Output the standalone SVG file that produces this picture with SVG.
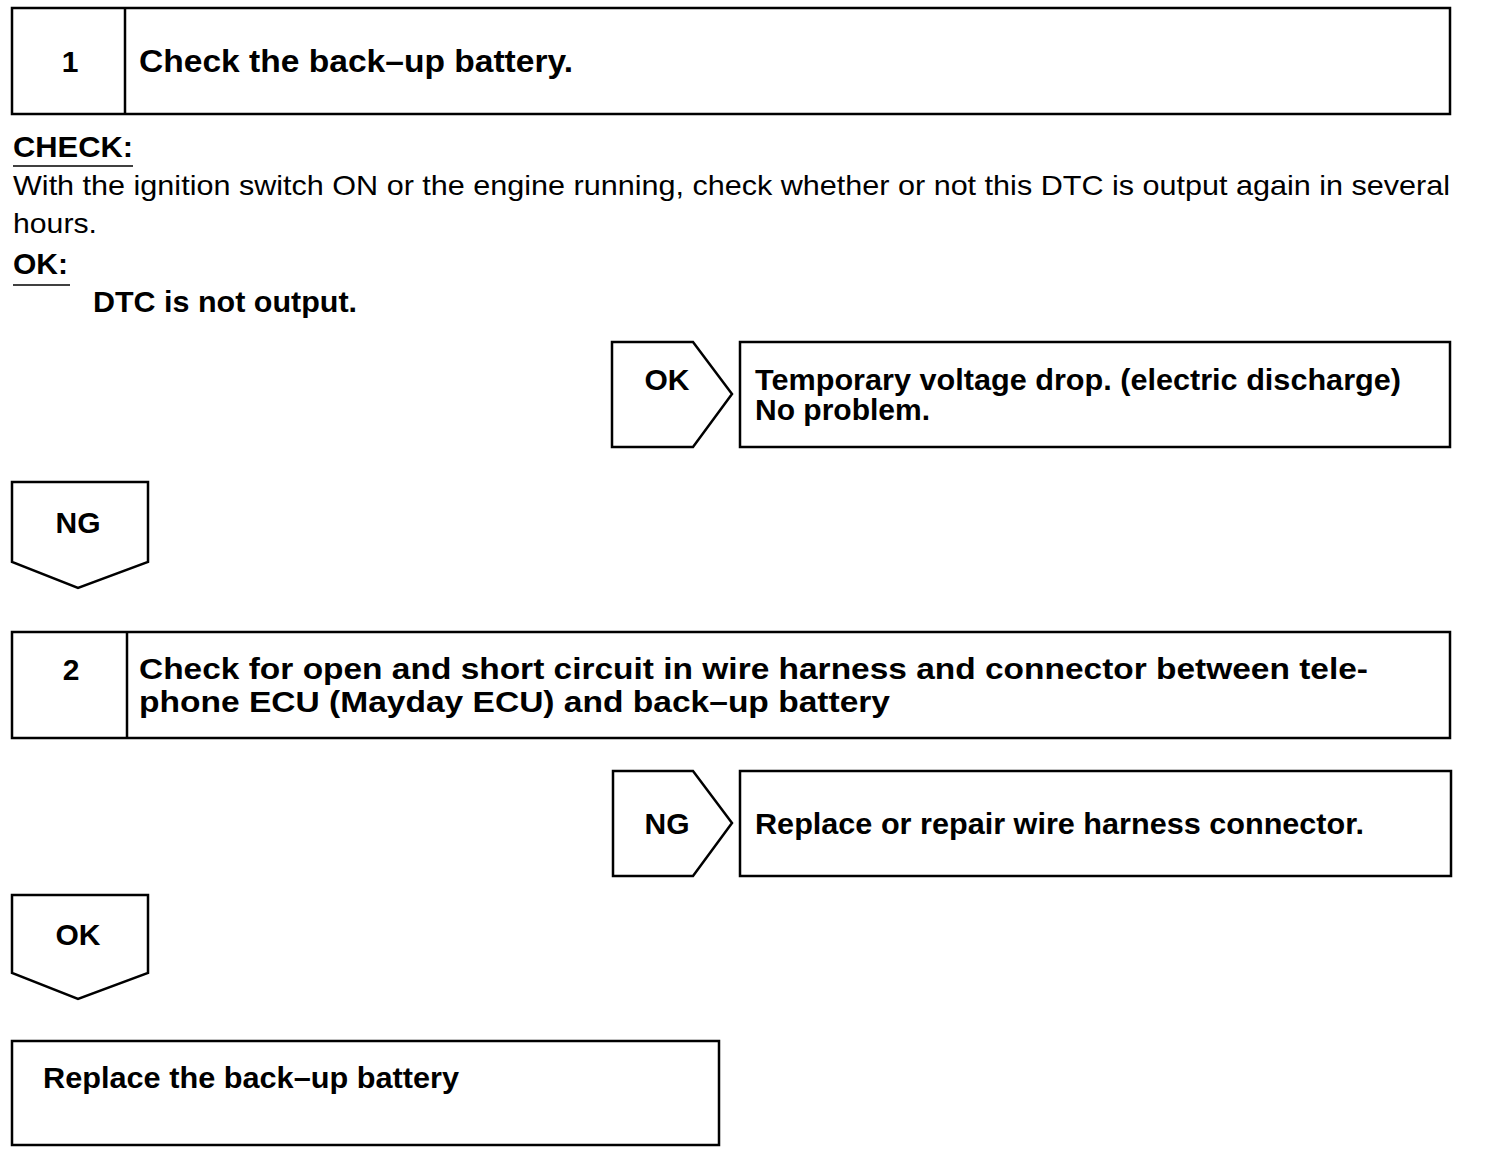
<svg xmlns="http://www.w3.org/2000/svg" width="1504" height="1160" viewBox="0 0 1504 1160">
<style>
.box{fill:#fff;stroke:#000;stroke-width:2.5}
.t{font-family:"Liberation Sans",Arial,sans-serif;fill:#000}
.b{font-weight:bold}
.h{font-size:32px}
.h2{font-size:29px}
.m{font-size:30px}
.r{font-size:28px}
.ln{stroke:#000;stroke-width:1.5}
</style>
<rect width="1504" height="1160" fill="#fff"/>
<g id="step1">
<rect class="box" x="12" y="8" width="1438" height="106"/>
<line class="ln" x1="125" y1="8" x2="125" y2="114" style="stroke-width:2.5"/>
<text class="t b m" x="70" y="72" text-anchor="middle">1</text>
<text class="t b h" x="139" y="72" textLength="434" lengthAdjust="spacingAndGlyphs">Check the back–up battery.</text>
</g>
<g id="check-text">
<text class="t b m" x="13" y="157" textLength="120" lengthAdjust="spacingAndGlyphs">CHECK:</text>
<line class="ln" x1="13" y1="166" x2="133" y2="166"/>
<text class="t r" x="13" y="195" textLength="1437" lengthAdjust="spacingAndGlyphs">With the ignition switch ON or the engine running, check whether or not this DTC is output again in several</text>
<text class="t r" x="13" y="233" textLength="84" lengthAdjust="spacingAndGlyphs">hours.</text>
<text class="t b m" x="13" y="274">OK:</text>
<line class="ln" x1="13" y1="285" x2="70" y2="285"/>
<text class="t b m" x="93" y="312" textLength="264" lengthAdjust="spacingAndGlyphs">DTC is not output.</text>
</g>
<g id="ok1">
<polygon class="box" points="612,342 693,342 732,394 693,447 612,447"/>
<text class="t b m" x="667" y="390" text-anchor="middle">OK</text>
</g>
<g id="result1">
<rect class="box" x="740" y="342" width="710" height="105"/>
<text class="t b m"><tspan x="755" y="390" textLength="646" lengthAdjust="spacingAndGlyphs">Temporary voltage drop. (electric discharge)</tspan><tspan x="755" y="420">No problem.</tspan></text>
</g>
<g id="ng1">
<polygon class="box" points="12,482 148,482 148,562 78,588 12,562"/>
<text class="t b m" x="78" y="533" text-anchor="middle">NG</text>
</g>
<g id="step2">
<rect class="box" x="12" y="632" width="1438" height="106"/>
<line class="ln" x1="127" y1="632" x2="127" y2="738" style="stroke-width:2.5"/>
<text class="t b m" x="71" y="680" text-anchor="middle">2</text>
<text class="t b h2" x="139" y="679" textLength="1229" lengthAdjust="spacingAndGlyphs">Check for open and short circuit in wire harness and connector between tele-</text>
<text class="t b h2" x="139" y="712" textLength="751" lengthAdjust="spacingAndGlyphs">phone ECU (Mayday ECU) and back–up battery</text>
</g>
<g id="ng2">
<polygon class="box" points="613,771 693,771 732,823 693,876 613,876"/>
<text class="t b m" x="667" y="834" text-anchor="middle">NG</text>
</g>
<g id="result2">
<rect class="box" x="740" y="771" width="711" height="105"/>
<text class="t b m" x="755" y="834" textLength="609" lengthAdjust="spacingAndGlyphs">Replace or repair wire harness connector.</text>
</g>
<g id="ok2">
<polygon class="box" points="12,895 148,895 148,973 78,999 12,973"/>
<text class="t b m" x="78" y="945" text-anchor="middle">OK</text>
</g>
<g id="final">
<rect class="box" x="12" y="1041" width="707" height="104"/>
<text class="t b m" x="43" y="1088" textLength="416" lengthAdjust="spacingAndGlyphs">Replace the back–up battery</text>
</g>
<g id="connectors"></g>
</svg>
